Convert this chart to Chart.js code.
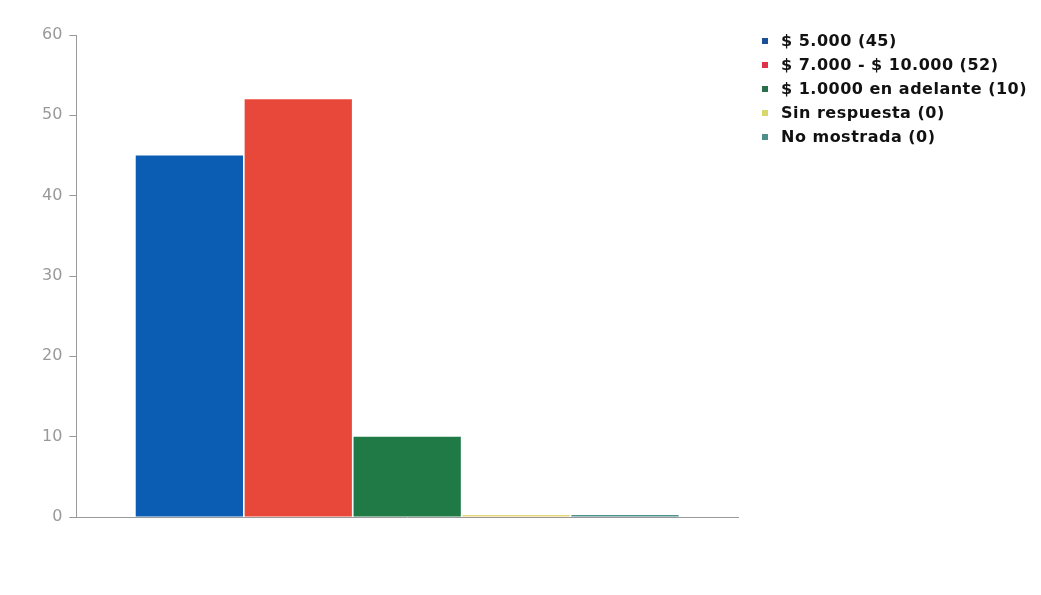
<!DOCTYPE html>
<html>
<head>
<meta charset="utf-8">
<script src="https://cdn.jsdelivr.net/npm/chart.js@4"></script>
<style>
  html, body { margin: 0; padding: 0; background: #fff; }
  #wrap { position: relative; width: 1041px; height: 595px; }
  #legend { position: absolute; left: 762px; top: 29px; margin: 0; padding: 0; list-style: none;
            font-family: 'DejaVu Sans', sans-serif; font-weight: bold; font-size: 16px; color: #111;
            letter-spacing: 0.5px; }
  #legend li { height: 24px; line-height: 24px; white-space: nowrap; }
  #legend span { display: inline-block; width: 6px; height: 6px; margin-right: 13px; vertical-align: middle; position: relative; top: -1px; }
</style>
</head>
<body>
<div id="wrap">
  <canvas id="myChart" width="1041" height="595"></canvas>
  <ul id="legend"></ul>
</div>
<script>
const categories = [''];
const seriesNames = ['$ 5.000', '$ 7.000 - $ 10.000', '$ 1.0000 en adelante', 'Sin respuesta', 'No mostrada'];
const seriesValues = [45, 52, 10, 0, 0];
const seriesColors = ['#0b5cb3', '#e8483a', '#1f7a46', '#e8d77a', '#4f8f8c'];
const legendColors = ['#1a4f9a', '#e0304a', '#2a6e4c', '#d8d86a', '#4e8f8a'];
const yTicks = [0, 10, 20, 30, 40, 50, 60];

const ctx = document.getElementById('myChart');

const datasets = seriesNames.map(function (name, i) {
  return {
    label: name + ' (' + seriesValues[i] + ')',
    data: [seriesValues[i]],
    backgroundColor: seriesColors[i],
    borderWidth: 0,
    minBarLength: 2,
    categoryPercentage: 0.823,
    barPercentage: 0.985
  };
});

// legend as html list, built from the same arrays
const legendEl = document.getElementById('legend');
datasets.forEach(function (ds, i) {
  const li = document.createElement('li');
  const box = document.createElement('span');
  box.style.background = legendColors[i];
  li.appendChild(box);
  li.appendChild(document.createTextNode(ds.label));
  legendEl.appendChild(li);
});

new Chart(ctx, {
  type: 'bar',
  data: {
    labels: categories,
    datasets: datasets
  },
  options: {
    responsive: false,
    animation: false,
    layout: {
      padding: { left: 35, top: 35, right: 303, bottom: 70 }
    },
    plugins: {
      tooltip: { enabled: false },
      legend: { display: false }
    },
    scales: {
      x: {
        grid: { display: false },
        border: { display: true, color: '#999', width: 1 },
        ticks: { display: false }
      },
      y: {
        min: 0,
        max: 60,
        afterBuildTicks: function (axis) {
          axis.ticks = yTicks.map(function (v) { return { value: v }; });
        },
        grid: { drawOnChartArea: false, drawTicks: true, tickLength: 7, color: '#999' },
        border: { display: true, color: '#999', width: 1 },
        ticks: {
          color: '#999',
          padding: 7,
          font: { family: 'DejaVu Sans', size: 16 }
        }
      }
    }
  }
});
</script>
</body>
</html>
